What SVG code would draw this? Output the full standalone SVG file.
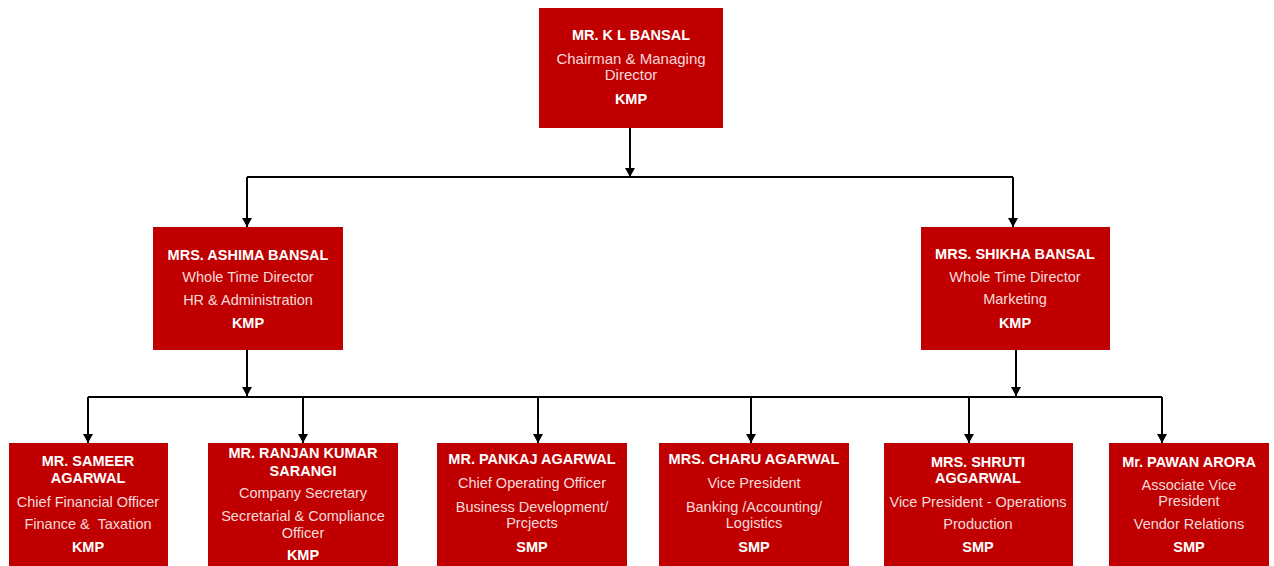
<svg xmlns="http://www.w3.org/2000/svg" width="1274" height="566" viewBox="0 0 1274 566">
<style>
.box{fill:#C00000;}
.nm{font-family:"Liberation Sans",Arial,sans-serif;font-weight:bold;font-size:14.5px;fill:#FFFFFF;text-anchor:middle;}
.tx{font-family:"Liberation Sans",Arial,sans-serif;font-size:14.5px;fill:#F6DADA;text-anchor:middle;}
.cn{fill:none;stroke:#000000;stroke-width:2;}
</style>
<defs>
<marker id="arr" markerUnits="userSpaceOnUse" markerWidth="10" markerHeight="10" refX="9" refY="5" orient="auto">
<path d="M0,0 L9,5 L0,10 z" fill="#000000"/>
</marker>
</defs>
<rect width="1274" height="566" fill="#FFFFFF"/>
<g id="connectors">
<path class="cn" d="M630 128 V177" marker-end="url(#arr)"/>
<path class="cn" d="M247 177 H1013"/>
<path class="cn" d="M247 177 V227" marker-end="url(#arr)"/>
<path class="cn" d="M1013 177 V227" marker-end="url(#arr)"/>
<path class="cn" d="M247 350 V396" marker-end="url(#arr)"/>
<path class="cn" d="M1016 350 V396" marker-end="url(#arr)"/>
<path class="cn" d="M88 397 H1162"/>
<path class="cn" d="M88 397 V443" marker-end="url(#arr)"/>
<path class="cn" d="M303 397 V443" marker-end="url(#arr)"/>
<path class="cn" d="M538 397 V443" marker-end="url(#arr)"/>
<path class="cn" d="M751 397 V443" marker-end="url(#arr)"/>
<path class="cn" d="M969 397 V443" marker-end="url(#arr)"/>
<path class="cn" d="M1162 397 V443" marker-end="url(#arr)"/>
</g>
<g id="kl-bansal">
<rect class="box" x="539" y="8" width="184" height="120"/>
<text class="nm" x="631" y="40">MR. K L BANSAL</text>
<text class="tx" x="631" y="64" style="font-size:15px">Chairman &amp; Managing</text>
<text class="tx" x="631" y="80" style="font-size:15px">Director</text>
<text class="nm" x="631" y="104">KMP</text>
</g>
<g id="ashima-bansal">
<rect class="box" x="153" y="227" width="190" height="123"/>
<text class="nm" x="248" y="260">MRS. ASHIMA BANSAL</text>
<text class="tx" x="248" y="282">Whole Time Director</text>
<text class="tx" x="248" y="305">HR &amp; Administration</text>
<text class="nm" x="248" y="328">KMP</text>
</g>
<g id="shikha-bansal">
<rect class="box" x="921" y="227" width="189" height="123"/>
<text class="nm" x="1015" y="259">MRS. SHIKHA BANSAL</text>
<text class="tx" x="1015" y="282">Whole Time Director</text>
<text class="tx" x="1015" y="304">Marketing</text>
<text class="nm" x="1015" y="328">KMP</text>
</g>
<g id="sameer-agarwal">
<rect class="box" x="9" y="443" width="159" height="130"/>
<text class="nm" x="88" y="466">MR. SAMEER</text>
<text class="nm" x="88" y="483">AGARWAL</text>
<text class="tx" x="88" y="507">Chief Financial Officer</text>
<text class="tx" x="88" y="529" xml:space="preserve">Finance &amp;  Taxation</text>
<text class="nm" x="88" y="552">KMP</text>
</g>
<g id="ranjan-sarangi">
<rect class="box" x="208" y="443" width="190" height="130"/>
<text class="nm" x="303" y="458">MR. RANJAN KUMAR</text>
<text class="nm" x="303" y="476">SARANGI</text>
<text class="tx" x="303" y="498">Company Secretary</text>
<text class="tx" x="303" y="521">Secretarial &amp; Compliance</text>
<text class="tx" x="303" y="538">Officer</text>
<text class="nm" x="303" y="560">KMP</text>
</g>
<g id="pankaj-agarwal">
<rect class="box" x="437" y="443" width="190" height="130"/>
<text class="nm" x="532" y="464">MR. PANKAJ AGARWAL</text>
<text class="tx" x="532" y="488">Chief Operating Officer</text>
<text class="tx" x="532" y="512">Business Development/</text>
<text class="tx" x="532" y="528">Prcjects</text>
<text class="nm" x="532" y="552">SMP</text>
</g>
<g id="charu-agarwal">
<rect class="box" x="659" y="443" width="190" height="130"/>
<text class="nm" x="754" y="464">MRS. CHARU AGARWAL</text>
<text class="tx" x="754" y="488">Vice President</text>
<text class="tx" x="754" y="512">Banking /Accounting/</text>
<text class="tx" x="754" y="528">Logistics</text>
<text class="nm" x="754" y="552">SMP</text>
</g>
<g id="shruti-aggarwal">
<rect class="box" x="884" y="443" width="189" height="130"/>
<text class="nm" x="978" y="467">MRS. SHRUTI</text>
<text class="nm" x="978" y="483">AGGARWAL</text>
<text class="tx" x="978" y="507">Vice President - Operations</text>
<text class="tx" x="978" y="529">Production</text>
<text class="nm" x="978" y="552">SMP</text>
</g>
<g id="pawan-arora">
<rect class="box" x="1109" y="443" width="160" height="130"/>
<text class="nm" x="1189" y="467">Mr. PAWAN ARORA</text>
<text class="tx" x="1189" y="490">Associate Vice</text>
<text class="tx" x="1189" y="506">President</text>
<text class="tx" x="1189" y="529">Vendor Relations</text>
<text class="nm" x="1189" y="552">SMP</text>
</g>
</svg>
